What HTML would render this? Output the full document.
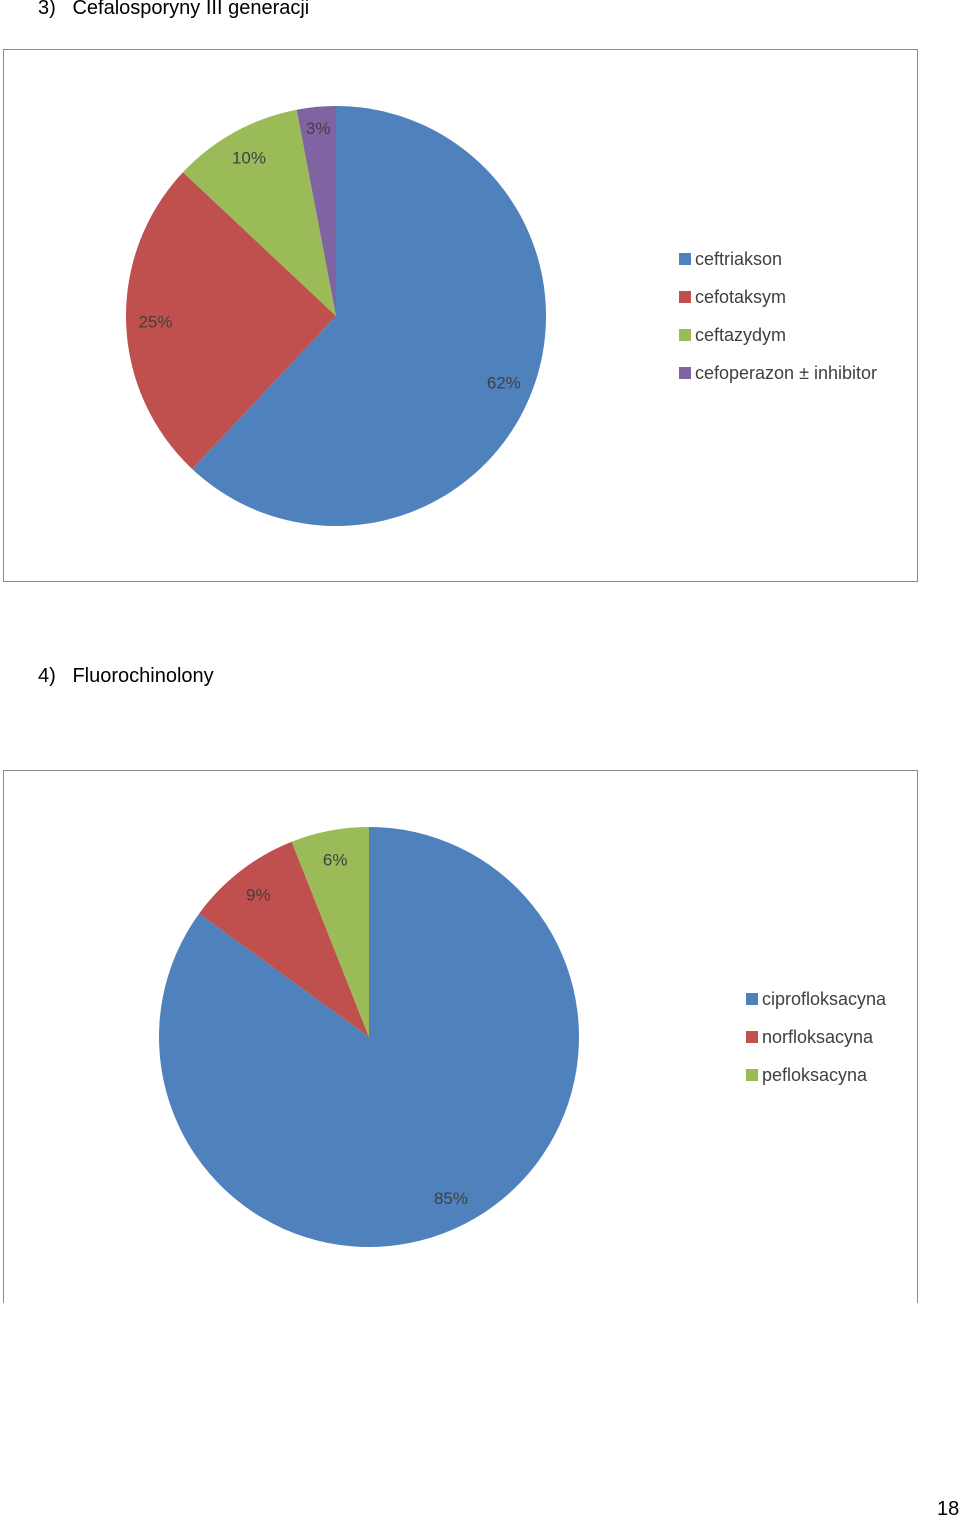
<!DOCTYPE html>
<html><head><meta charset="utf-8"><style>
body{margin:0;width:960px;height:1518px;background:#fff;position:relative;font-family:"Liberation Sans",sans-serif;overflow:hidden}
.h{position:absolute;font-size:20px;color:#000;font-family:"Liberation Sans",sans-serif}
svg{position:absolute;left:0;top:0}
</style></head><body>
<div class="h" style="left:38px;top:-3px">3)&nbsp;&nbsp;&nbsp;Cefalosporyny III generacji</div>
<div class="h" style="left:38px;top:665px">4)&nbsp;&nbsp;&nbsp;Fluorochinolony</div>
<div class="h" style="left:937px;top:1498px">18</div>
<svg id="s" width="960" height="1518">
<rect x="3.5" y="49.5" width="914" height="532" fill="#fff" stroke="#8c8c8c"/>
<path d="M3.5 1303 V770.5 H917.5 V1303" fill="none" stroke="#8c8c8c"/>
</svg>
<script>
const cat1=["ceftriakson","cefotaksym","ceftazydym","cefoperazon ± inhibitor"];
const val1=[62,25,10,3];
const cat2=["ciprofloksacyna","norfloksacyna","pefloksacyna"];
const val2=[85,9,6];
const colors=["#4f81bd","#c0504d","#9bbb59","#8064a2"];
const svg=document.getElementById('s');
const NS="http://www.w3.org/2000/svg";
function pie(vals,cats,cx,cy,R,lx,ly,pfx){
  const tot=vals.reduce((a,b)=>a+b,0);
  let a0=0;
  vals.forEach((v,i)=>{
    const a1=a0+v/tot*2*Math.PI;
    const x0=cx+R*Math.sin(a0),y0=cy-R*Math.cos(a0),x1=cx+R*Math.sin(a1),y1=cy-R*Math.cos(a1);
    const p=document.createElementNS(NS,'path');
    p.setAttribute('d',`M${cx} ${cy} L${x0} ${y0} A${R} ${R} 0 ${a1-a0>Math.PI?1:0} 1 ${x1} ${y1} Z`);
    p.setAttribute('fill',colors[i]);
    
    
    svg.appendChild(p);
    const am=(a0+a1)/2, lr=R*(v<5?0.9:0.86);
    const t=document.createElementNS(NS,'text');
    t.setAttribute('x',cx+lr*Math.sin(am));t.setAttribute('y',cy-lr*Math.cos(am)+6);
    t.setAttribute('text-anchor','middle');t.setAttribute('font-size','17');t.setAttribute('fill','#404040');
    t.setAttribute('font-family','Liberation Sans, sans-serif');
    t.textContent=Math.round(v/tot*100)+'%';
    
    
    svg.appendChild(t);
    a0=a1;
  });
  cats.forEach((c,i)=>{
    const r=document.createElementNS(NS,'rect');
    r.setAttribute('x',lx);r.setAttribute('y',ly+i*38-6);r.setAttribute('width',12);r.setAttribute('height',12);
    r.setAttribute('fill',colors[i]);
    
    
    svg.appendChild(r);
    const t=document.createElementNS(NS,'text');
    t.setAttribute('x',lx+16);t.setAttribute('y',ly+i*38+6);
    t.setAttribute('font-size','18');t.setAttribute('fill','#404040');
    t.setAttribute('font-family','Liberation Sans, sans-serif');
    t.textContent=c;
    
    
    svg.appendChild(t);
  });
}
pie(val1,cat1,336,316,210,679,259,'chart1');
pie(val2,cat2,369,1037,210,746,999,'chart2');
</script>
</body></html>
